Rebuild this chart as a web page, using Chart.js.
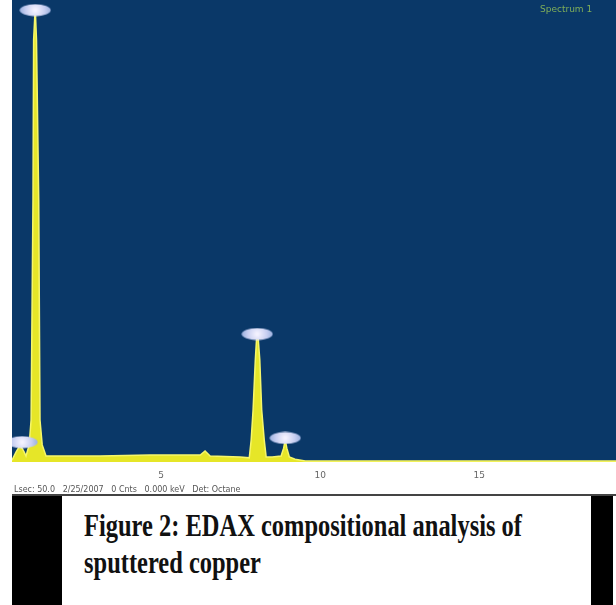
<!DOCTYPE html>
<html>
<head>
<meta charset="utf-8">
<script src="https://cdn.jsdelivr.net/npm/chart.js@4.4.1/dist/chart.umd.min.js"></script>
<style>
  body { margin: 0; background: #fff; width: 616px; height: 605px; overflow: hidden; position: relative; }
  #chart { position: absolute; left: 12px; top: 0; }
  .abs { position: absolute; }
  #spec { left: 540px; top: 4px; font: 9px "DejaVu Sans", sans-serif; color: #7fae5a; }
  #footer { left: 14px; top: 485px; font: 8px "DejaVu Sans", sans-serif; color: #555; white-space: nowrap; }
  #rule { left: 12px; top: 494px; width: 604px; height: 2px; background: #444; }
  #blackL { left: 12px; top: 496px; width: 50px; height: 109px; background: #000; }
  #blackR { left: 591px; top: 496px; width: 22px; height: 109px; background: #000; }
  #caption { left: 84px; top: 507px; font: bold 31px "Liberation Serif", serif; color: #111; line-height: 37px; white-space: nowrap; transform-origin: 0 0; }
</style>
</head>
<body>
<canvas id="chart" width="604" height="495"></canvas>
<div class="abs" id="spec">Spectrum 1</div>
<div class="abs" id="footer">Lsec: 50.0&nbsp;&nbsp; 2/25/2007&nbsp;&nbsp; 0 Cnts&nbsp;&nbsp; 0.000 keV&nbsp;&nbsp; Det: Octane</div>
<div class="abs" id="rule"></div>
<div class="abs" id="blackL"></div>
<div class="abs" id="blackR"></div>
<div class="abs" id="caption">Figure 2: EDAX compositional analysis of<br>sputtered copper</div>
<script>
// spectrum (keV / counts)
const energy = [0.31, 0.44, 0.57, 0.69, 0.75, 0.85, 0.91, 0.97, 0.99, 1.04, 1.08, 1.15, 1.19, 1.26, 1.38,
  1.82, 3.08, 4.65, 6.23, 6.38, 6.54, 7.48, 7.77, 7.83, 7.89, 7.96, 8.00, 8.05, 8.10, 8.16, 8.24, 8.30,
  8.49, 8.77, 8.85, 8.90, 8.95, 9.03, 9.21, 9.53, 10.0, 19.3];
const counts = [4, 22, 37, 22, 13, 37, 91, 567, 914, 983, 914, 567, 91, 37, 13,
  13, 13, 15, 15, 24, 13, 11, 9, 48, 113, 221, 268, 268, 221, 113, 48, 11,
  11, 13, 30, 48, 30, 11, 6, 2, 2, 2];

// peak marker positions
const peakEnergy = [0.63, 1.04, 8.02, 8.90];
const peakCounts = [43, 978, 277, 52];

const xTicks = [5, 10, 15];

// ellipse marker image
const marker = document.createElement("canvas");
marker.width = 32;
marker.height = 13;
(function () {
  const c = marker.getContext("2d");
  const g = c.createRadialGradient(16, 6.5, 1, 16, 6.5, 15);
  g.addColorStop(0, "#f4f2ff");
  g.addColorStop(0.6, "#c9d0f2");
  g.addColorStop(1, "#9fb3e0");
  c.fillStyle = g;
  c.beginPath();
  c.ellipse(16, 6.5, 15.5, 6, 0, 0, Math.PI * 2);
  c.fill();
})();

const bgPlugin = {
  id: "bg",
  beforeDraw(chart) {
    const { ctx, chartArea: a } = chart;
    ctx.save();
    ctx.fillStyle = "#fff";
    ctx.fillRect(0, 0, chart.width, chart.height);
    ctx.fillStyle = "#0a3868";
    ctx.fillRect(a.left, a.top, a.right - a.left, a.bottom - a.top);
    ctx.restore();
  },
};

new Chart(document.getElementById("chart"), {
  type: "line",
  data: {
    datasets: [
      {
        type: "scatter",
        data: peakEnergy.map((e, i) => ({ x: e, y: peakCounts[i] })),
        pointStyle: marker,
        order: 0,
      },
      {
        data: energy.map((e, i) => ({ x: e, y: counts[i] })),
        borderColor: "#f6f66a",
        backgroundColor: "#e6e628",
        borderWidth: 1.5,
        pointRadius: 0,
        fill: "origin",
        tension: 0,
        order: 1,
      },
    ],
  },
  plugins: [bgPlugin],
  options: {
    responsive: false,
    animation: false,
    devicePixelRatio: 1,
    layout: { padding: 0, autoPadding: false },
    plugins: { legend: { display: false }, tooltip: { enabled: false } },
    scales: {
      x: {
        type: "linear",
        min: 0.31,
        max: 19.3,
        afterBuildTicks(scale) {
          scale.ticks = xTicks.map((v) => ({ value: v }));
        },
        afterFit(scale) {
          scale.height = 33;
        },
        grid: { display: false, drawTicks: false },
        border: { display: false },
        ticks: { padding: 8, color: "#666", font: { size: 9, family: "DejaVu Sans" }, maxRotation: 0 },
      },
      y: { display: false, min: 0, max: 1000 },
    },
  },
});

// squeeze caption to the width it has in the figure
const cap = document.getElementById("caption");
const w = cap.getBoundingClientRect().width;
cap.style.transform = "scaleX(" + (438 / w) + ")";
</script>
</body>
</html>
